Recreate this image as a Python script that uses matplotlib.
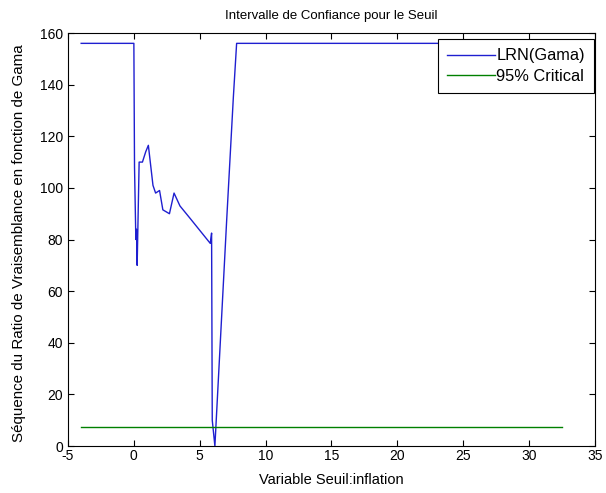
import matplotlib.pyplot as plt

plt.rcParams['font.family'] = ['Liberation Sans Narrow', 'Liberation Sans', 'DejaVu Sans']
plt.rcParams['axes.unicode_minus'] = False

# seuil candidat vs statistique LR
seuil = [-4, 0, 0.05, 0.15, 0.2, 0.25, 0.4, 0.65, 0.9, 1.1, 1.45, 1.65, 1.95, 2.2,
         2.7, 3.05, 3.5, 4.3, 5.8, 5.9, 5.95, 6.15, 7.05, 7.55, 7.8, 32.5]
lrn = [156, 156, 108, 80, 84, 70, 110, 110, 114, 116.5, 101, 98, 99, 91.5,
       90, 98, 93, 88, 78.5, 82.5, 10, 0, 88, 135, 156, 156]
crit_x = [-4, 32.5]
crit_val = 7.35

fig = plt.figure(figsize=(6.06, 4.93), dpi=100)
ax = fig.add_axes([0.1122, 0.0953, 0.8696, 0.8377])

ax.plot(seuil, lrn, color='#1f1fd0', linewidth=1.0, label='LRN(Gama)')
ax.plot(crit_x, [crit_val, crit_val], color='#008000', linewidth=1.0, label='95% Critical')

ax.set_xlim(-5, 35)
ax.set_ylim(0, 160)
ax.set_xticks(range(-5, 36, 5))
ax.set_yticks(range(0, 161, 20))
ax.tick_params(direction='in', top=True, right=True, labelsize=10, length=4)
ax.tick_params(axis='x', pad=2)
ax.tick_params(axis='y', pad=3.5)

ax.set_title('Intervalle de Confiance pour le Seuil', fontsize=9.5, pad=10)
ax.set_xlabel('Variable Seuil:inflation', fontsize=10.5, labelpad=7)
ax.set_ylabel('Séquence du Ratio de Vraisemblance en fonction de Gama', fontsize=10.9)
ax.yaxis.set_label_coords(-0.08, 0.49)

leg = ax.legend(loc='upper right', bbox_to_anchor=(0.998, 0.985), fancybox=False,
                edgecolor='black', framealpha=1, fontsize=11.8, borderaxespad=0,
                handlelength=2.9, handletextpad=0.1, borderpad=0.55, labelspacing=0.35)
leg.get_frame().set_linewidth(0.8)

fig.savefig('out.png', dpi=100)
